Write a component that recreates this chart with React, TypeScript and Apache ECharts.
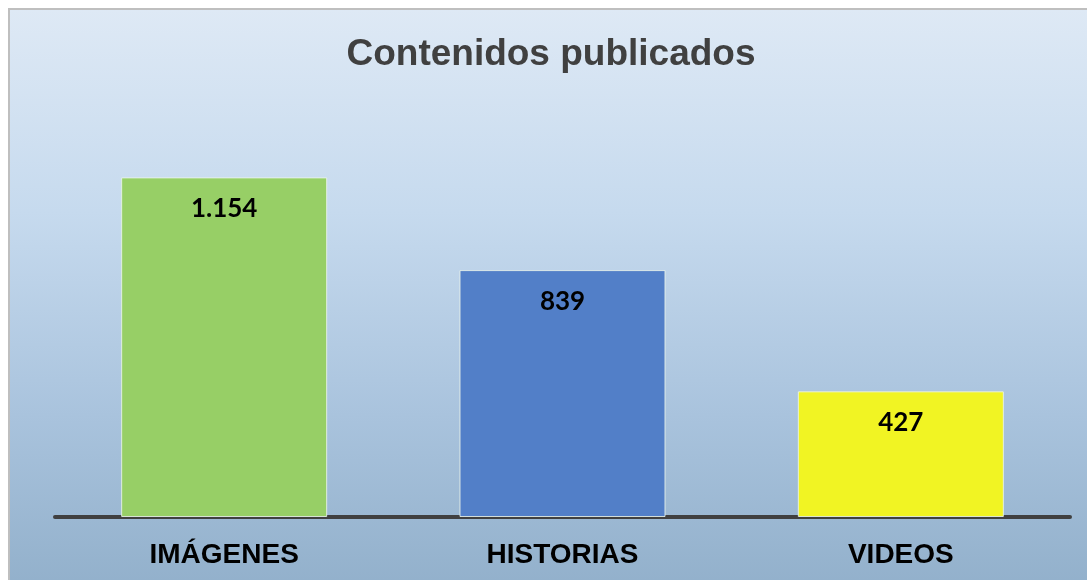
import React, { useEffect, useRef } from "react";
import * as echarts from "echarts";

const categories = ["IMÁGENES", "HISTORIAS", "VIDEOS"];
const values = [1154, 839, 427];
const valueLabels = ["1.154", "839", "427"];
const barColors = ["#97CF66", "#527FC8", "#F1F423"];
const titleText = "Contenidos publicados";

export default function App() {
  const ref = useRef<HTMLDivElement>(null);
  useEffect(() => {
    if (!ref.current) return;
    document.body.style.margin = "0";
    document.body.style.overflow = "hidden";
    const chart = echarts.init(ref.current, null, { renderer: "svg" });
    chart.setOption({
      animation: false,
      graphic: [
        {
          type: "rect",
          z: -10,
          silent: true,
          shape: { x: 9, y: 9, width: 1200, height: 580 },
          style: {
            fill: new echarts.graphic.LinearGradient(0, 0, 0, 1, [
              { offset: 0, color: "#DEE9F5" },
              { offset: 0.35, color: "#C6DAEE" },
              { offset: 0.7, color: "#A9C3DD" },
              { offset: 1, color: "#92B0CB" },
            ]),
            stroke: "#BFBFBF",
            lineWidth: 2,
          },
        },
      ],
      title: {
        text: titleText,
        left: 546,
        top: 29,
        textAlign: "center",
        textStyle: {
          fontFamily: "Liberation Sans, Arial, sans-serif",
          fontWeight: "bold",
          fontSize: 37,
          color: "#404040",
        },
      },
      grid: { left: 55, right: 17, top: 105, bottom: 63 },
      xAxis: {
        type: "category",
        data: categories,
        axisLine: { show: true, lineStyle: { color: "#404040", width: 4 } },
        axisTick: { show: false },
        axisLabel: {
          margin: 22,
          fontFamily: "Liberation Sans, Arial, sans-serif",
          fontWeight: "bold",
          fontSize: 28,
          color: "#000000",
        },
      },
      yAxis: {
        type: "value",
        min: 0,
        max: 1400,
        show: false,
        splitLine: { show: false },
      },
      series: [
        {
          type: "bar",
          barWidth: 206,
          data: values.map((v, i) => ({
            value: v,
            itemStyle: { color: barColors[i], borderColor: "rgba(235,245,235,0.85)", borderWidth: 1 },
            label: { formatter: valueLabels[i] },
          })),
          label: {
            show: true,
            position: "insideTop",
            distance: 17,
            fontFamily: "Lato, Open Sans, sans-serif",
            fontWeight: "bold",
            fontSize: 26,
            color: "#000000",
          },
        },
      ],
    });
    return () => chart.dispose();
  }, []);
  return <div ref={ref} style={{ position: "fixed", left: 0, top: 0, width: 1087, height: 580 }} />;
}
